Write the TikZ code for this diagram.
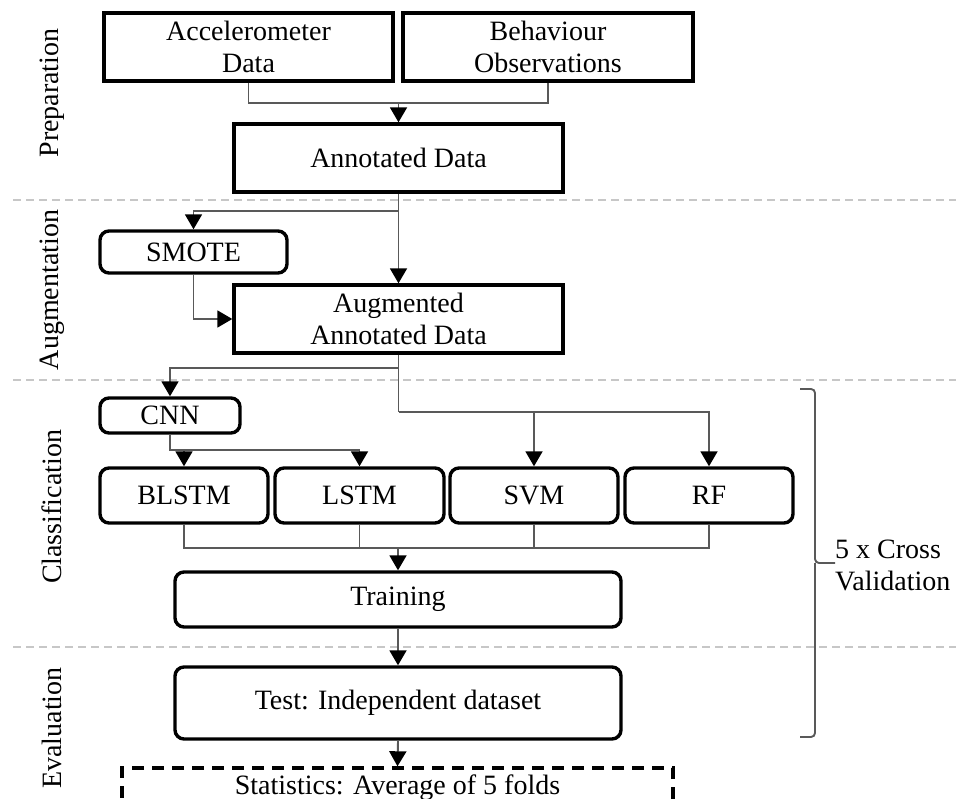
\documentclass[tikz,border=0pt]{standalone}
\usepackage{fontspec}
\setmainfont{Liberation Serif}
\usetikzlibrary{calc, positioning}
\usetikzlibrary{arrows.meta}
\tikzset{
  font=\fontsize{28}{32}\selectfont,
  % Set arrowhead
  >={Triangle[width=17pt, length=15pt, color=black]},
  % Data box
  dbox/.style={draw, line width=3.4pt, shape=rectangle, inner sep=0pt,
    align=center},
  % Method box
  mbox/.style={dbox, rounded corners=9pt},
  % Result box
  rbox/.style={dbox, dash pattern=on 12pt off 8pt},
  % Connectors
  con/.style={draw=black!65, line width=1.9pt},
  con->/.style={con, ->},
  % Phase separators
  sep/.style={draw=black!22, line width=1.3pt, dash pattern=on 8pt off 5pt},
  % Phase labels
  phase/.style={rotate=90, inner sep=0pt},
}
\begin{document}
\begin{tikzpicture}[x=1pt, y=-1pt]
  \useasboundingbox (0,0) rectangle (956,799);

  % phases
  \foreach \y in {200, 380, 647}
    \draw[sep] (13,\y) -- (956,\y);
  \node[phase] (prep) at (52,93) {Preparation};
  \node[phase] (augm) at (52,290) {Augmentation};
  \node[phase] (clas) at (52,507) {Classification};
  \node[phase] (eval) at (52,728) {Evaluation};

  % boxes
  \node[dbox, minimum width=289pt, minimum height=68pt] (acc) at (248.5,47)
    {Accelerometer\\Data};
  \node[dbox, minimum width=290pt, minimum height=68pt] (beh) at (548,47)
    {Behaviour\\Observations};
  \node[dbox, minimum width=329pt, minimum height=68pt] (ann) at (398.5,158)
    {Annotated Data};
  \node[mbox, minimum width=187pt, minimum height=42pt] (smote) at (193.5,252)
    {SMOTE};
  \node[dbox, minimum width=329pt, minimum height=68pt] (aug) at (398.5,319)
    {Augmented\\Annotated Data};
  \node[mbox, minimum width=140pt, minimum height=35pt] (cnn) at (170,415.5)
    {CNN};
  \node[mbox, minimum width=168pt, minimum height=55pt] (blstm) at (184,495.5)
    {BLSTM};
  \node[mbox, minimum width=169pt, minimum height=55pt] (lstm) at (359.5,495.5)
    {LSTM};
  \node[mbox, minimum width=168pt, minimum height=55pt] (svm) at (534,495.5)
    {SVM};
  \node[mbox, minimum width=168pt, minimum height=55pt] (rf) at (709,495.5)
    {RF};
  \node[mbox, minimum width=446pt, minimum height=55pt] (train) at (398,599.5)
    {Training};
  \node[mbox, minimum width=446pt, minimum height=72pt] (test) at (398,703)
    {Test: Independent dataset};
  \node[rbox, minimum width=551pt, minimum height=40pt] (stats) at (397.5,788)
    {Statistics: Average of 5 folds};

  % junctions
  \coordinate (j1) at (398.5,103);
  \coordinate (j2) at (398.5,211);
  \coordinate (j3) at (398.5,368);
  \coordinate (j4) at (398.5,412);
  \coordinate (j5) at (170,450);
  \coordinate (j6) at (398,548);

  % connectors
  \draw[con] (acc.south) |- (j1) -| (beh.south);
  \draw[con->] (j1) -- (ann.north);
  \draw[con->] (ann.south) -- (aug.north);
  \draw[con->] (j2) -| (smote.north);
  \draw[con->] (smote.south) |- (aug.west);
  \draw[con] (aug.south) -- (j4);
  \draw[con->] (j3) -| (cnn.north);
  \draw[con->] (j4) -| (rf.north);
  \draw[con->] (svm.north |- j4) -- (svm.north);
  \draw[con->] (cnn.south) -- (j5) -| (lstm.north);
  \draw[con->] (blstm.north |- j5) -- (blstm.north);
  \draw[con] (blstm.south) |- (rf.south |- j6) -- (rf.south);
  \draw[con] (lstm.south) -- (lstm.south |- j6);
  \draw[con] (svm.south) -- (svm.south |- j6);
  \draw[con->] (j6) -- (train.north);
  \draw[con->] (train.south) -- (test.north);
  \draw[con->] (test.south) -- (stats.north);

  % cross validation
  \coordinate (b1) at (800,389);
  \coordinate (b2) at (800,737);
  \coordinate (bt) at (815,563);
  \draw[con, rounded corners=4pt] (b1) -| (bt) -- ++(20,0);
  \draw[con, rounded corners=4pt] (b2) -| (bt);
  \node[anchor=west, align=left, inner sep=0pt] (cv) at (835,565)
    {5 x Cross\\Validation};
\end{tikzpicture}
\end{document}
